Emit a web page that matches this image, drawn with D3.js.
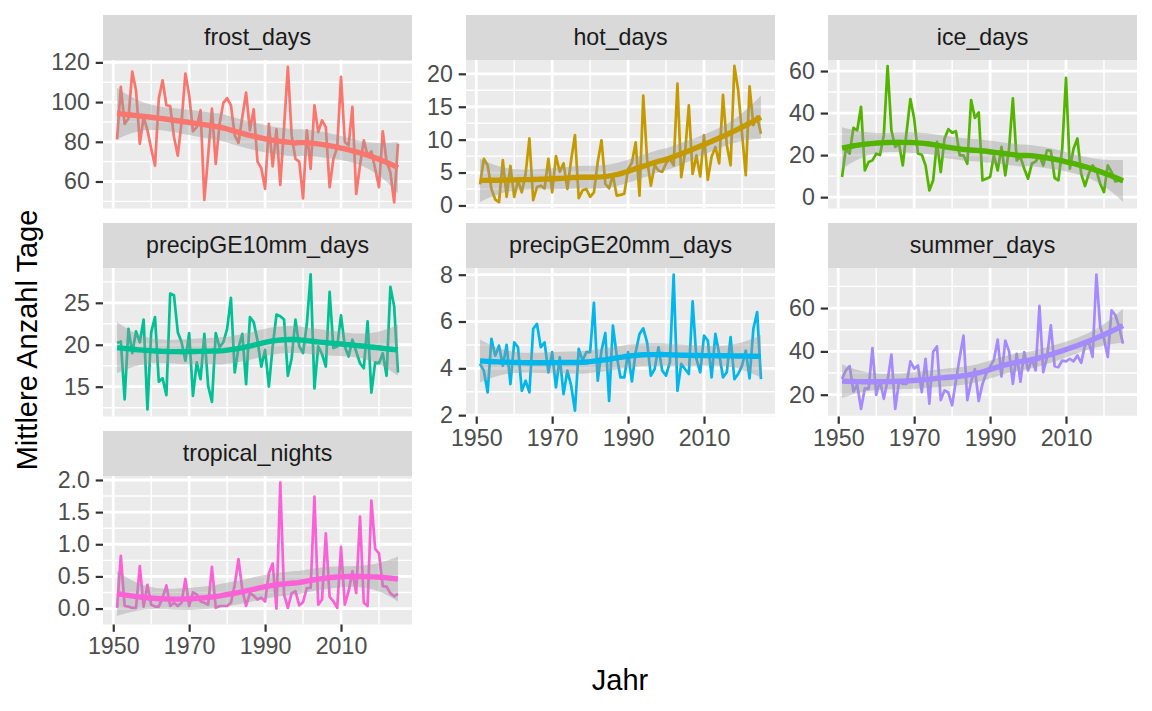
<!DOCTYPE html>
<html>
<head>
<meta charset="utf-8">
<script src="https://cdn.jsdelivr.net/npm/d3@7"></script>
<style>
  body { margin: 0; background: #ffffff; }
  svg text { font-family: "Liberation Sans", Arial, Helvetica, sans-serif; }
</style>
</head>
<body>
<svg id="chart" width="1152" height="711"></svg>
<script>
// ---------------- DATA ----------------
const years = [1951,1952,1953,1954,1955,1956,1957,1958,1959,1960,
  1961,1962,1963,1964,1965,1966,1967,1968,1969,1970,
  1971,1972,1973,1974,1975,1976,1977,1978,1979,1980,
  1981,1982,1983,1984,1985,1986,1987,1988,1989,1990,
  1991,1992,1993,1994,1995,1996,1997,1998,1999,2000,
  2001,2002,2003,2004,2005,2006,2007,2008,2009,2010,
  2011,2012,2013,2014,2015,2016,2017,2018,2019,2020,
  2021,2022,2023,2024,2025];

const frost_days = [81.2,107.7,89,91.7,115.3,106,79,92.5,85.8,76.5,
  68,101.8,111,98.4,98,82.4,73,90,114.4,103.5,
  85.3,87.4,95.9,50.7,73,96.7,68.9,89,99.6,102,
  98.4,83.2,79.5,92.5,104.8,85.8,96.4,70,66.7,56.3,
  89,67.6,86.3,58.3,87.4,117.8,83.2,71.4,70,51.5,
  85.8,66.4,98.4,84.9,90.8,87.4,57.1,71.4,77.3,112.7,
  79.9,78.2,97.6,53.7,68,80.7,73,75.1,66.4,57.1,
  85.3,70,64.7,49.5,79];

const hot_days = [3.2,7.1,6.1,2.5,0.9,0.5,6.9,1.3,6,1.3,
  3.8,2,4.8,10.2,0.8,2.8,3,2.6,7.1,2,
  7.5,5.1,6.4,2.5,6.9,10.7,1.1,2.3,2.5,1.3,
  2,6.6,9.9,3.3,2.6,4.6,1.5,1.6,1.8,5.5,
  6.5,9.6,1.5,16.7,7,3,6.1,5.3,5.1,6.4,
  7.1,6.1,18.5,4.3,8,15.2,4.8,7.6,4.4,10.7,
  3.9,7.4,8.9,6.4,16.8,9.2,6.1,21.2,17.5,11,
  4.6,18.1,12.2,13.5,10.9];

const ice_days = [9.6,23,20.7,33,31.8,43,12.7,16.7,17.5,20.7,
  20,29.5,62.4,31.8,23.9,25.5,15.1,31,46.7,37.4,
  20.7,20.2,15.1,3.2,8,26.3,11.9,27.9,32.3,30.7,
  31.4,19.9,19.9,15.9,46.2,37.7,40.3,8,8.8,9.6,
  19.9,12.7,23.9,10.4,23.1,47,17.5,19.1,13.5,8.8,
  15.9,17,19.9,15.1,22.3,22,9.1,8,23.1,56.8,
  13.5,23.1,27.9,11.1,5.3,11.1,15.1,12.7,6.4,2.4,
  15.1,11.9,7.5,8,7.5];

const precipGE10mm_days = [20.2,20.4,13.5,21.9,19,21.6,20.3,23,12.3,21.5,
  23.3,15.6,16,14,26.1,25.9,21.5,20.3,18.1,21.4,
  13.9,17.9,15.9,21.3,15.1,13.2,21.4,19.7,20.3,21.9,
  25.6,16.7,19.7,21.3,15.3,23.3,22.7,20.5,17.4,19.4,
  15.0,19.8,23.6,23.4,23.0,16.3,18.4,23.0,19.8,19.0,
  22.5,28.4,14.8,19.8,18.9,17.4,26.3,19.6,19.8,23.5,
  19.8,18.6,20.6,19.2,17.8,17.2,22.8,14.3,17.9,17.8,
  19.0,16.3,26.9,24.6,16.7];

const precipGE20mm_days = [4.19,3.9,2.97,5.26,4.54,4.97,4.11,5.0,3.33,5.11,
  4.9,3.04,3.47,2.97,5.69,5.9,4.9,5.11,3.83,4.69,
  3.19,4.47,2.9,3.9,3.26,2.19,4.83,4.33,4.69,4.69,
  6.8,3.47,4.76,5.51,2.61,5.83,4.54,3.61,3.61,4.69,
  3.44,4.69,5.47,5.71,5.11,3.69,3.97,4.9,3.9,3.69,
  4.26,8.0,3.04,4.19,3.97,3.76,6.86,4.4,3.83,5.4,
  5.19,3.61,5.47,4.61,3.61,3.83,5.33,3.54,3.76,4.11,
  4.76,3.57,5.69,6.4,3.54];

const summer_days = [27.3,31.2,33.2,21.5,24.6,13.4,23,22.7,41.5,19.9,
  26.6,18.1,26.6,38.5,13.4,26.1,25,25,35.4,32,
  33.5,21.2,36.6,15.9,39.8,42.3,17.5,22,21,15.1,
  26.5,37.3,47.3,17.5,26,31.8,17.1,25,29.9,33,
  36.1,45.4,28.4,45,40,25,38.9,26,39.7,31.2,
  36.6,31.2,61,30.4,37.4,52,33.2,32.7,35.8,35.4,
  36.6,35.4,38.1,34.7,42.8,44.3,37.4,75.5,51.3,45.9,
  37.4,59,56.7,51.3,43.6];

const tropical_nights = [0.01,0.82,0.04,0.03,0.01,0.01,0.66,0.03,0.37,0.06,
  0.03,0.03,0.17,0.36,0.04,0.09,0.04,0.09,0.46,0.04,
  0.25,0.22,0.11,0.09,0.06,0.65,0.01,0.04,0.04,0.04,
  0.09,0.37,0.77,0.29,0.04,0.24,0.2,0.14,0.17,0.11,
  0.55,0.7,0,1.96,0.22,0.01,0.24,0.27,0.05,0.1,
  0.32,0.32,1.74,0.06,0.14,1.17,0.18,0.11,0.01,0.96,
  0.06,0.27,0.58,0.24,1.43,0.09,0.04,1.68,0.93,0.86,
  0.35,0.34,0.24,0.19,0.23];

const facetNames = ["frost_days","hot_days","ice_days","precipGE10mm_days",
  "precipGE20mm_days","summer_days","tropical_nights"];
const facetColors = ["#F8766D","#C49A00","#53B400","#00C094","#00B6EB","#A58AFF","#FB61D7"];
const yLimits = [[46.4,121.2],[-0.46,22.1],[-5.4,65.25],[11.45,29.15],[1.943,8.286],[9.94,78.5],[-0.248,2.062]];
const yBreaks = [[60,80,100,120],[0,5,10,15,20],[0,20,40,60],[15,20,25],[2,4,6,8],[20,40,60],[0,0.5,1,1.5,2]];
const yFormats = ["d","d","d","d","d","d",".1f"];
const xBreaks = [1950,1970,1990,2010];
const xMinorBreaks = [1960,1980,2000,2020];
const xTitle = "Jahr";
const yTitle = "Mittlere Anzahl Tage";

const series = [frost_days, hot_days, ice_days, precipGE10mm_days,
  precipGE20mm_days, summer_days, tropical_nights];

// ---------------- LOESS (stat_smooth default: span 0.75, degree 2, 95% CI) ----------------
function inv3(m){
  const [a,b,c]=m[0],[d,e,f]=m[1],[g,h,k]=m[2];
  const A=e*k-f*h, B=-(d*k-f*g), C=d*h-e*g;
  const det=a*A+b*B+c*C;
  return [[A/det,-(b*k-c*h)/det,(b*f-c*e)/det],
          [B/det,(a*k-c*g)/det,-(a*f-c*d)/det],
          [C/det,-(a*h-b*g)/det,(a*e-b*d)/det]];
}
function qt975(df){
  const z=1.959963985;
  const g1=(Math.pow(z,3)+z)/4;
  const g2=(5*Math.pow(z,5)+16*Math.pow(z,3)+3*z)/96;
  const g3=(3*Math.pow(z,7)+19*Math.pow(z,5)+17*Math.pow(z,3)-15*z)/384;
  return z+g1/df+g2/(df*df)+g3/(df*df*df);
}
function loessSmooth(xs, ys, span, nOut){
  const n=xs.length, q=Math.floor(n*span);
  function opRow(x0){
    const d=xs.map(v=>Math.abs(v-x0));
    const h=d.slice().sort((a,b)=>a-b)[q-1];
    const w=d.map(v=>{const u=v/h; return u<1?Math.pow(1-u*u*u,3):0;});
    const basis=xs.map(v=>{const t=(v-x0)/10; return [1,t,t*t];});
    const S=[[0,0,0],[0,0,0],[0,0,0]];
    basis.forEach((bv,i)=>{for(let a=0;a<3;a++)for(let b=0;b<3;b++)S[a][b]+=w[i]*bv[a]*bv[b];});
    const r0=inv3(S)[0];
    return basis.map((bv,i)=>w[i]*(r0[0]*bv[0]+r0[1]*bv[1]+r0[2]*bv[2]));
  }
  const L=xs.map(opRow);
  const fitted=L.map(l=>d3.sum(l,(v,j)=>v*ys[j]));
  const rss=d3.sum(ys,(v,i)=>(v-fitted[i])*(v-fitted[i]));
  const IL=L.map((row,i)=>row.map((v,j)=>(i===j?1:0)-v));
  let delta1=0, delta2=0;
  for(let a=0;a<n;a++){
    for(let b=0;b<n;b++){
      let m=0; for(let i=0;i<n;i++) m+=IL[i][a]*IL[i][b];
      if(a===b) delta1+=m;
      delta2+=m*m;
    }
  }
  const s=Math.sqrt(rss/delta1);
  const tq=qt975(delta1*delta1/delta2);
  const lo=d3.min(xs), hi=d3.max(xs);
  const out=[];
  for(let k=0;k<nOut;k++){
    const x0=lo+(hi-lo)*k/(nOut-1);
    const l=opRow(x0);
    const f=d3.sum(l,(v,j)=>v*ys[j]);
    const se=s*Math.sqrt(d3.sum(l,v=>v*v));
    out.push({x:x0,y:f,ymin:f-tq*se,ymax:f+tq*se});
  }
  return out;
}

// ---------------- LAYOUT ----------------
const svg=d3.select("#chart");
const colLeft=[103,466,828], panelW=309;
const rowTop=[60,268,476], panelH=148.5, stripH=45;
const xDomain=[d3.min(years)-0.05*(d3.max(years)-d3.min(years)), d3.max(years)+0.05*(d3.max(years)-d3.min(years))];
const fontFam='"Liberation Sans", Arial, Helvetica, sans-serif';
const axisFont=23.2;
const bottomPanels=[6,4,5];

function minorBreaks(br, dom){
  const step=br[1]-br[0];
  const ext=[br[0]-step].concat(br,[br[br.length-1]+step]);
  const m=[];
  for(let k=0;k<ext.length-1;k++) m.push((ext[k]+ext[k+1])/2);
  return m.filter(v=>v>=dom[0]&&v<=dom[1]);
}

const defs=svg.append("defs");

series.forEach((vals,i)=>{
  const r=Math.floor(i/3), c=i%3;
  const px=colLeft[c], py=rowTop[r];
  const x=d3.scaleLinear().domain(xDomain).range([px,px+panelW]);
  const y=d3.scaleLinear().domain(yLimits[i]).range([py+panelH,py]);
  const g=svg.append("g");

  // panel background
  g.append("rect").attr("x",px).attr("y",py).attr("width",panelW).attr("height",panelH).attr("fill","#EBEBEB");

  // minor grid
  const ym=minorBreaks(yBreaks[i],yLimits[i]);
  g.selectAll(".ymin").data(ym).join("line")
    .attr("x1",px).attr("x2",px+panelW).attr("y1",d=>y(d)).attr("y2",d=>y(d))
    .attr("stroke","#ffffff").attr("stroke-width",1.4);
  g.selectAll(".xmin").data(xMinorBreaks.filter(d=>d>=xDomain[0]&&d<=xDomain[1])).join("line")
    .attr("y1",py).attr("y2",py+panelH).attr("x1",d=>x(d)).attr("x2",d=>x(d))
    .attr("stroke","#ffffff").attr("stroke-width",1.4);
  // major grid
  g.selectAll(".ymaj").data(yBreaks[i]).join("line")
    .attr("x1",px).attr("x2",px+panelW).attr("y1",d=>y(d)).attr("y2",d=>y(d))
    .attr("stroke","#ffffff").attr("stroke-width",2.8);
  g.selectAll(".xmaj").data(xBreaks).join("line")
    .attr("y1",py).attr("y2",py+panelH).attr("x1",d=>x(d)).attr("x2",d=>x(d))
    .attr("stroke","#ffffff").attr("stroke-width",2.8);

  // clip
  const cid="clip"+i;
  defs.append("clipPath").attr("id",cid).append("rect")
    .attr("x",px).attr("y",py).attr("width",panelW).attr("height",panelH);
  const cg=g.append("g").attr("clip-path",`url(#${cid})`);

  const pts=years.map((yr,k)=>({x:yr,y:vals[k]}));
  cg.append("path").datum(pts)
    .attr("d",d3.line().x(d=>x(d.x)).y(d=>y(d.y)))
    .attr("fill","none").attr("stroke",facetColors[i]).attr("stroke-width",2.7)
    .attr("stroke-linejoin","round");

  const sm=loessSmooth(years,vals,0.75,80);
  cg.append("path").datum(sm)
    .attr("d",d3.area().x(d=>x(d.x)).y0(d=>y(d.ymin)).y1(d=>y(d.ymax)))
    .attr("fill","#999999").attr("fill-opacity",0.4);
  cg.append("path").datum(sm)
    .attr("d",d3.line().x(d=>x(d.x)).y(d=>y(d.y)))
    .attr("fill","none").attr("stroke",facetColors[i]).attr("stroke-width",5.4)
    .attr("stroke-linejoin","round");

  // strip
  g.append("rect").attr("x",px).attr("y",py-stripH).attr("width",panelW).attr("height",stripH).attr("fill","#D9D9D9");
  g.append("text").attr("x",px+panelW/2).attr("y",py-stripH+30)
    .attr("text-anchor","middle").attr("fill","#1A1A1A")
    .style("font-size",axisFont+"px").style("font-family",fontFam)
    .text(facetNames[i]);

  // y axis
  const ya=d3.axisLeft(y).tickValues(yBreaks[i]).tickSize(7.3).tickPadding(5.8).tickFormat(d3.format(yFormats[i]));
  const ag=svg.append("g").attr("transform",`translate(${px},0)`).call(ya);
  ag.attr("font-family",null).attr("font-size",null);
  ag.select(".domain").remove();
  ag.selectAll(".tick line").attr("stroke","#333333").attr("stroke-width",2.2);
  ag.selectAll(".tick text").attr("fill","#4D4D4D").style("font-size",axisFont+"px").style("font-family",fontFam);

  // x axis on bottom-most panel of each column
  if(bottomPanels.includes(i)){
    const xa=d3.axisBottom(x).tickValues(xBreaks).tickSize(7.3).tickPadding(6.2).tickFormat(d3.format("d"));
    const bg=svg.append("g").attr("transform",`translate(0,${py+panelH})`).call(xa);
    bg.attr("font-family",null).attr("font-size",null);
    bg.select(".domain").remove();
    bg.selectAll(".tick line").attr("stroke","#333333").attr("stroke-width",2.2);
    bg.selectAll(".tick text").attr("fill","#4D4D4D").style("font-size",axisFont+"px").style("font-family",fontFam);
  }
});

// axis titles
svg.append("text").attr("x",(colLeft[0]+colLeft[2]+panelW)/2).attr("y",690)
  .attr("text-anchor","middle").attr("fill","#000000")
  .style("font-size","29px").style("font-family",fontFam).text(xTitle);
svg.append("text").attr("transform","translate(37,340) rotate(-90)")
  .attr("text-anchor","middle").attr("fill","#000000")
  .style("font-size","29px").style("font-family",fontFam).text(yTitle);
</script>
</body>
</html>
